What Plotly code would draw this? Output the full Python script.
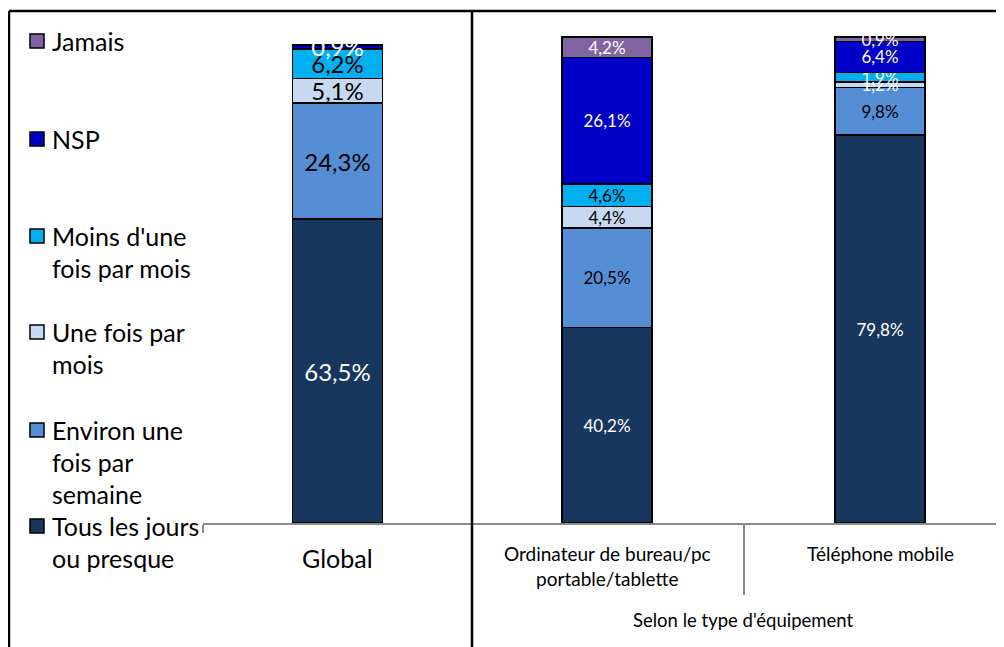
import plotly.graph_objects as go

# page body has an 8px margin: figure occupies 8..1004 x 8..647
OFF = 8
W, H = 1004 - OFF, 647 - OFF

# ---- data ----
cat_left = ["Global"]
cat_right = ["Ordinateur de bureau/pc<br>portable/tablette", "Téléphone mobile"]
group_label = "Selon le type d'équipement"

series_names = [
    "Tous les jours\nou presque",
    "Environ une\nfois par\nsemaine",
    "Une fois par\nmois",
    "Moins d'une\nfois par mois",
    "NSP",
    "Jamais",
]
tous_left, tous_right = [63.5], [40.2, 79.8]
env_left, env_right = [24.3], [20.5, 9.8]
une_left, une_right = [5.1], [4.4, 1.2]
moins_left, moins_right = [6.2], [4.6, 1.9]
nsp_left, nsp_right = [0.9], [26.1, 6.4]
jamais_left, jamais_right = [None], [4.2, 0.9]

colors = ["#17375E", "#558ED5", "#C6D9F1", "#00B0F0", "#0000C8", "#8064A2"]
txt_left = [["white"], ["black"], ["black"], ["black"], ["white"], ["white"]]
txt_right = [["white", "white"], ["black", "black"], ["black", "white"],
             ["black", "white"], ["white", "white"], ["white", "white"]]

left_vals = [tous_left, env_left, une_left, moins_left, nsp_left, jamais_left]
right_vals = [tous_right, env_right, une_right, moins_right, nsp_right, jamais_right]

FONT = "Lato"

def fmt(v):
    return "" if v is None else f"{v:.1f}%".replace(".", ",")

def py(p):
    return 1 - (p - OFF) / H

def px(p):
    return (p - OFF) / W

fig = go.Figure()
for i, name in enumerate(series_names):
    fig.add_trace(go.Bar(
        x=cat_left, y=left_vals[i], name=name.replace("\n", " "),
        marker=dict(color=colors[i], line=dict(color="black", width=1.6)),
        text=[fmt(v) for v in left_vals[i]], textposition="inside",
        insidetextanchor="middle", constraintext="none",
        textfont=dict(family=FONT, size=24, color=txt_left[i]),
        width=0.335, xaxis="x", yaxis="y", showlegend=False,
    ))
    fig.add_trace(go.Bar(
        x=cat_right, y=right_vals[i], name=name.replace("\n", " "),
        marker=dict(color=colors[i], line=dict(color="black", width=1.6)),
        text=[fmt(v) for v in right_vals[i]], textposition="inside",
        insidetextanchor="middle", constraintext="none",
        textfont=dict(family=FONT, size=17, color=txt_right[i]),
        width=0.33, xaxis="x2", yaxis="y2", showlegend=False,
    ))

ydom = [py(523), py(11)]
fig.update_layout(
    width=W, height=H, margin=dict(l=0, r=0, t=0, b=0),
    paper_bgcolor="white", plot_bgcolor="white",
    barmode="stack",
    font=dict(family=FONT, color="black"),
    xaxis=dict(domain=[px(203), px(472)], range=[-0.5, 0.5], type="category",
               showline=True, linecolor="#8C8C8C", linewidth=1.5,
               ticks="outside", tickson="boundaries", ticklen=8,
               tickcolor="#8C8C8C", tickwidth=1.5, showticklabels=False,
               showgrid=False, zeroline=False, anchor="y"),
    yaxis=dict(domain=ydom, range=[0, 512 / 4.783], visible=False, anchor="x"),
    xaxis2=dict(domain=[px(472), 1], range=[-0.4945, 1.4542], type="category",
                showline=True, linecolor="#8C8C8C", linewidth=1.5,
                ticks="outside", tickson="boundaries", ticklen=70,
                tickcolor="#8C8C8C", tickwidth=1.5, showticklabels=False,
                showgrid=False, zeroline=False, anchor="y2"),
    yaxis2=dict(domain=ydom, range=[0, 512 / 4.86], visible=False, anchor="x2"),
)

# category labels
anns = []
anns.append(dict(xref="x", x=cat_left[0], yref="paper", y=py(558), text=cat_left[0],
                 showarrow=False, yanchor="middle", font=dict(size=25, family=FONT)))
for c in cat_right:
    anns.append(dict(xref="x2", x=c, yref="paper", y=py(540), text=c,
                     showarrow=False, yanchor="top", font=dict(size=19, family=FONT)))
anns.append(dict(xref="x2", x=0.5, yref="paper", y=py(620), text=group_label,
                 showarrow=False, yanchor="middle", font=dict(size=18.5, family=FONT)))

# manual legend (top to bottom)
shapes = []
leg_y = [41, 139, 236, 332, 430, 526]
order = list(range(len(series_names)))[::-1]
for k, idx in enumerate(order):
    yc = leg_y[k]
    shapes.append(dict(type="rect", xref="paper", yref="paper",
                       x0=px(30), x1=px(44), y0=py(yc + 7), y1=py(yc - 7),
                       fillcolor=colors[idx], line=dict(color="black", width=1.5)))
    for j, line in enumerate(series_names[idx].split("\n")):
        anns.append(dict(xref="paper", yref="paper", x=px(50), y=py(yc + 32 * j),
                         text=line, showarrow=False, xanchor="left", yanchor="middle",
                         font=dict(size=25, family=FONT)))

# frame lines
for (x0, y0, x1, y1) in [(9, 11, 9, 647), (9, 11, 1004, 11), (472, 11, 472, 647)]:
    shapes.append(dict(type="line", xref="paper", yref="paper",
                       x0=px(x0), y0=py(y0), x1=px(x1), y1=py(y1),
                       line=dict(color="black", width=2.5)))

fig.update_layout(annotations=anns, shapes=shapes)
fig.write_html("out.html")
